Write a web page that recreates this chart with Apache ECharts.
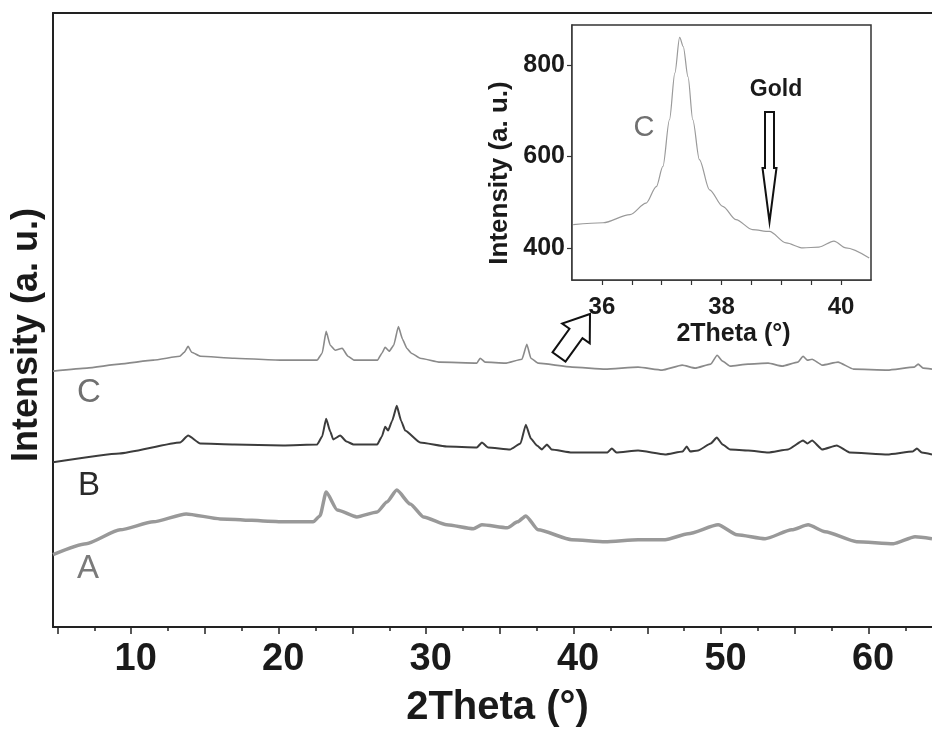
<!DOCTYPE html>
<html>
<head>
<meta charset="utf-8">
<script src="https://cdn.jsdelivr.net/npm/echarts@6/dist/echarts.min.js"></script>
<style>
  html, body { margin: 0; padding: 0; background: #fff; }
  #main { width: 932px; height: 733px; }
</style>
</head>
<body>
<div id="main"></div>
<script>
// XRD patterns, [2Theta (deg), intensity (a. u., stacked with offsets)]
var traceA = [
  [4.7, 73], [6.95, 84], [9.25, 98], [11.5, 106], [13.73, 114], [16.03, 109], [20.31, 106], [22.34, 106],
  [22.8, 112], [23.22, 136], [23.97, 118], [25.3, 111], [26.68, 116], [27.34, 126],
  [28.01, 138], [28.92, 124], [29.82, 111], [31.4, 103], [33.2, 99], [33.78, 103],
  [35.5, 100], [36.2, 106], [36.76, 112], [37.59, 98], [39.88, 88], [42.14, 86],
  [44.37, 88], [46.2, 88], [47.76, 94], [49.8, 103], [51.08, 93], [52.98, 89],
  [54.79, 98], [55.9, 103], [57.05, 96], [59.19, 86], [61.69, 84], [63.15, 91], [64.3, 89]
];
var traceB = [
  [4.7, 166], [9.2, 175], [13.32, 186], [13.86, 193], [14.68, 185], [17, 184],
  [20.3, 183], [22.61, 184], [22.95, 192], [23.22, 210], [23.5, 197], [23.7, 189],
  [24.17, 193], [24.6, 187], [25.08, 184], [26.68, 184], [27.0, 192], [27.22, 202],
  [27.42, 198], [27.7, 208], [28.01, 223], [28.3, 208], [28.58, 198], [29.59, 186],
  [31.4, 182], [33.44, 181], [33.78, 186], [34.2, 181], [35.69, 179], [36.4, 185],
  [36.76, 204], [37.1, 190], [37.51, 183], [37.85, 179], [38.19, 184], [38.5, 179],
  [39.88, 176], [42.3, 176], [42.59, 180], [42.9, 176], [44.37, 178], [46.2, 174],
  [47.4, 177], [47.67, 182], [47.9, 177], [48.44, 178], [49.3, 185], [49.71, 191],
  [50.1, 184], [50.61, 179], [51.83, 178], [53.19, 176], [54.54, 179], [55.56, 188],
  [55.85, 185], [56.17, 188], [56.85, 179], [57.84, 183], [58.71, 176], [61.28, 174],
  [63.0, 177], [63.27, 180], [63.6, 176], [64.3, 174]
];
var traceC = [
  [4.7, 258], [7, 261], [9.2, 265], [11.5, 269], [13.3, 273], [13.6, 277],
  [13.86, 283], [14.1, 277], [14.7, 273], [17, 271], [20.3, 269], [22.6, 269],
  [22.95, 276], [23.22, 298], [23.5, 284], [23.83, 279], [24.31, 281], [24.7, 273],
  [25.1, 269], [26.7, 269], [27.0, 276], [27.22, 282], [27.5, 278], [27.8, 284],
  [28.12, 303], [28.4, 290], [28.69, 281], [29.0, 276], [29.59, 271], [30.95, 267],
  [33.44, 266], [33.66, 271], [34.0, 267], [35.36, 266], [36.5, 270], [36.83, 285],
  [37.1, 271], [37.59, 266], [39.9, 262], [42.14, 260], [44.37, 262], [46.0, 259],
  [47.36, 264], [48.24, 261], [49.3, 265], [49.73, 274], [50.1, 268], [50.61, 263],
  [51.83, 265], [53.19, 266], [54.14, 263], [55.2, 267], [55.56, 273], [55.85, 269],
  [56.17, 270], [56.85, 264], [57.93, 267], [58.98, 260], [61.28, 259], [63.1, 262],
  [63.36, 265], [63.7, 261], [64.3, 260]
];
// inset: sample C around the gold (111) position
var insetC = [
  [35.52, 451], [36.02, 455], [36.47, 473], [36.74, 498], [36.91, 534], [37.02, 578],
  [37.13, 680], [37.22, 782], [37.3, 860], [37.36, 840], [37.44, 774], [37.52, 680],
  [37.63, 593], [37.8, 527], [38.02, 491], [38.24, 462], [38.52, 440], [38.8, 436],
  [39.08, 411], [39.36, 400], [39.63, 402], [39.88, 415], [40.08, 400], [40.47, 378]
];

var mainXLabels = [10, 20, 30, 40, 50, 60];
var mainMajorTicks = [5, 10, 15, 20, 25, 30, 35, 40, 45, 50, 55, 60];
var mainMinorTicks = [7.5, 12.5, 17.5, 22.5, 27.5, 32.5, 37.5, 42.5, 47.5, 52.5, 57.5, 62.5];
var insetXLabels = [36, 38, 40];
var insetXTicks = [36, 36.5, 37, 37.5, 38, 38.5, 39, 39.5, 40];
var insetYLabels = [400, 600, 800];

var font = "'Liberation Sans', Arial, sans-serif";
var ink = '#1a1a1a';

// hollow arrow from tail point to tip point
function arrowPoints(tx, ty, hx, hy, shaftHalf, headHalf, headLen) {
  var dx = hx - tx, dy = hy - ty;
  var len = Math.sqrt(dx * dx + dy * dy);
  var ux = dx / len, uy = dy / len;
  var nx = -uy, ny = ux;
  var bx = hx - ux * headLen, by = hy - uy * headLen;
  return [
    [tx + nx * shaftHalf, ty + ny * shaftHalf],
    [bx + nx * shaftHalf, by + ny * shaftHalf],
    [bx + nx * headHalf, by + ny * headHalf],
    [hx, hy],
    [bx - nx * headHalf, by - ny * headHalf],
    [bx - nx * shaftHalf, by - ny * shaftHalf],
    [tx - nx * shaftHalf, ty - ny * shaftHalf]
  ];
}

var myChart = echarts.init(document.getElementById('main'));

myChart.setOption({
  animation: false,
  backgroundColor: '#fff',
  grid: [
    { left: 53, right: 0, top: 13, bottom: 102 },
    { left: 572, top: 25, width: 299, height: 255, show: true,
      borderColor: '#333', borderWidth: 1.5, backgroundColor: '#fff', z: 5 }
  ],
  xAxis: [
    {
      type: 'value', gridIndex: 0, position: 'bottom', min: 4.7, max: 64.3,
      axisLine: { show: true, lineStyle: { color: '#222', width: 2 } },
      axisTick: { show: true, customValues: mainMajorTicks, length: 7, lineStyle: { color: '#222', width: 1.5 } },
      axisLabel: { customValues: mainXLabels, margin: 14, fontSize: 38, fontWeight: 'bold', color: ink, fontFamily: font,
        padding: [0, 0, 0, 9] },
      splitLine: { show: false },
      name: '2Theta (°)', nameLocation: 'middle', nameGap: 61,
      nameTextStyle: { fontSize: 40, fontWeight: 'bold', color: ink, fontFamily: font, padding: [0, 0, 0, 10] }
    },
    {
      type: 'value', gridIndex: 0, position: 'bottom', min: 4.7, max: 64.3,
      axisLine: { show: false },
      axisTick: { show: true, customValues: mainMinorTicks, length: 4, lineStyle: { color: '#222', width: 1.5 } },
      axisLabel: { show: false },
      splitLine: { show: false }
    },
    {
      type: 'value', gridIndex: 0, position: 'top', min: 4.7, max: 64.3,
      axisLine: { show: true, lineStyle: { color: '#222', width: 2 } },
      axisTick: { show: false }, axisLabel: { show: false }, splitLine: { show: false }
    },
    {
      type: 'value', gridIndex: 1, position: 'bottom', min: 35.5, max: 40.5,
      axisLine: { show: true, lineStyle: { color: '#333', width: 1.5 } },
      axisTick: { show: true, customValues: insetXTicks, length: 5, lineStyle: { color: '#333', width: 1.2 } },
      axisLabel: { customValues: insetXLabels, margin: 15, fontSize: 24, fontWeight: 'bold', color: ink, fontFamily: font },
      splitLine: { show: false },
      name: '2Theta (°)', nameLocation: 'middle', nameGap: 42,
      nameTextStyle: { fontSize: 25, fontWeight: 'bold', color: ink, fontFamily: font, padding: [0, 0, 0, 24] }
    }
  ],
  yAxis: [
    {
      type: 'value', gridIndex: 0, min: 0, max: 619,
      axisLine: { show: true, lineStyle: { color: '#222', width: 2 } },
      axisTick: { show: false }, axisLabel: { show: false }, splitLine: { show: false }
    },
    {
      type: 'value', gridIndex: 1, min: 330, max: 887,
      axisLine: { show: true, lineStyle: { color: '#333', width: 1.5 } },
      axisTick: { show: true, customValues: insetYLabels, length: 5, lineStyle: { color: '#333', width: 1.2 } },
      axisLabel: { customValues: insetYLabels, margin: 7, fontSize: 25, fontWeight: 'bold', color: ink, fontFamily: font },
      splitLine: { show: false }
    }
  ],
  series: [
    { name: 'A', type: 'line', xAxisIndex: 0, yAxisIndex: 0, data: traceA, showSymbol: false,
      smooth: 0.2, smoothMonotone: 'x', lineStyle: { color: '#999', width: 3.5 } },
    { name: 'B', type: 'line', xAxisIndex: 0, yAxisIndex: 0, data: traceB, showSymbol: false,
      smooth: 0.15, smoothMonotone: 'x', lineStyle: { color: '#3c3c3c', width: 2 } },
    { name: 'C', type: 'line', xAxisIndex: 0, yAxisIndex: 0, data: traceC, showSymbol: false,
      smooth: 0.15, smoothMonotone: 'x', lineStyle: { color: '#8a8a8a', width: 1.6 } },
    { name: 'C inset', type: 'line', xAxisIndex: 3, yAxisIndex: 1, data: insetC, showSymbol: false, z: 6,
      smooth: 0.3, smoothMonotone: 'x', lineStyle: { color: '#9a9a9a', width: 1.2 } }
  ],
  graphic: [
    { type: 'text', x: 27, y: 335, rotation: Math.PI / 2,
      style: { text: 'Intensity (a. u.)', font: 'bold 36px ' + font, fill: ink, align: 'center', verticalAlign: 'middle' } },
    { type: 'text', x: 500, y: 173, rotation: Math.PI / 2, z: 10,
      style: { text: 'Intensity (a. u.)', font: 'bold 26px ' + font, fill: ink, align: 'center', verticalAlign: 'middle' } },
    { type: 'text', x: 89, y: 393,
      style: { text: 'C', font: '33px ' + font, fill: '#707070', align: 'center', verticalAlign: 'middle' } },
    { type: 'text', x: 89, y: 486,
      style: { text: 'B', font: '33px ' + font, fill: '#2a2a2a', align: 'center', verticalAlign: 'middle' } },
    { type: 'text', x: 88, y: 569,
      style: { text: 'A', font: '33px ' + font, fill: '#7a7a7a', align: 'center', verticalAlign: 'middle' } },
    { type: 'text', x: 644, y: 128, z: 10,
      style: { text: 'C', font: '29px ' + font, fill: '#707070', align: 'center', verticalAlign: 'middle' } },
    { type: 'text', x: 776, y: 90, z: 10,
      style: { text: 'Gold', font: 'bold 23px ' + font, fill: ink, align: 'center', verticalAlign: 'middle' } },
    { type: 'polygon', z: 10,
      shape: { points: arrowPoints(769.5, 112, 769.5, 222, 4.5, 7, 54) },
      style: { fill: '#fff', stroke: '#111', lineWidth: 2, lineJoin: 'miter' } },
    { type: 'polygon', z: 10,
      shape: { points: arrowPoints(559, 357, 590, 314, 8, 17, 24) },
      style: { fill: '#fff', stroke: '#111', lineWidth: 2, lineJoin: 'miter' } }
  ]
});
</script>
</body>
</html>
